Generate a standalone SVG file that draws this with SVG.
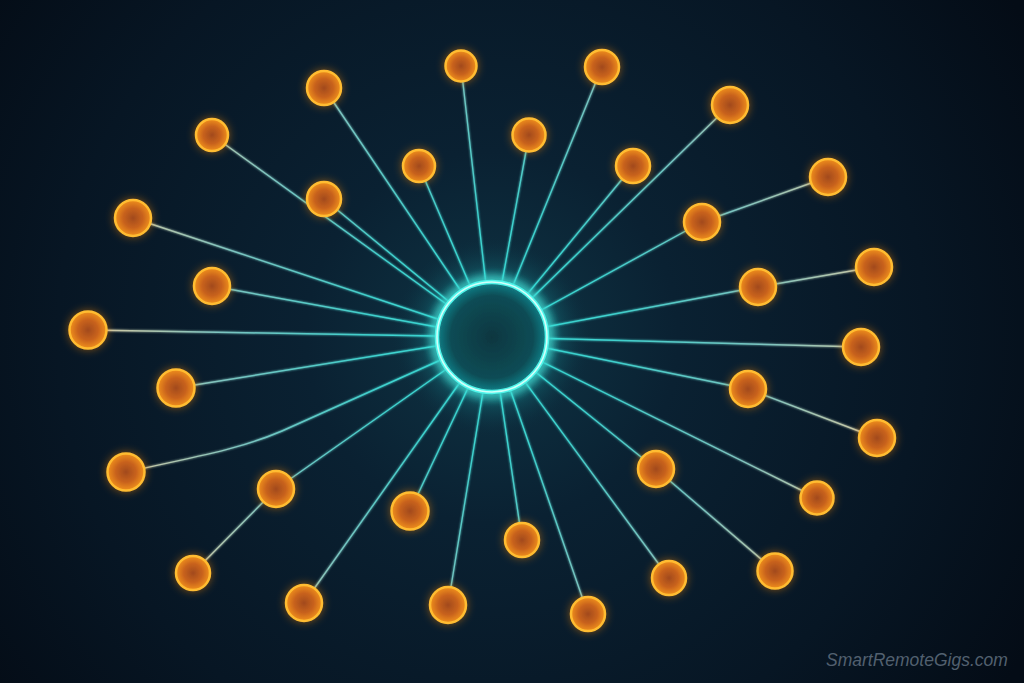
<svg xmlns="http://www.w3.org/2000/svg" width="1024" height="683" viewBox="0 0 1024 683">
<defs>
<radialGradient id="bg" gradientUnits="userSpaceOnUse" cx="492" cy="337" r="620">
<stop offset="0" stop-color="#0f3545"/>
<stop offset="0.3" stop-color="#0a2132"/>
<stop offset="0.7" stop-color="#071624"/>
<stop offset="1" stop-color="#040c16"/>
</radialGradient>
<radialGradient id="lineGrad" gradientUnits="userSpaceOnUse" cx="492" cy="337" r="420">
<stop offset="0" stop-color="#3ff4ea"/>
<stop offset="0.3" stop-color="#3fcfcc"/>
<stop offset="0.65" stop-color="#7cc4c0"/>
<stop offset="1" stop-color="#e6c89c"/>
</radialGradient>
<radialGradient id="halo" cx="0.5" cy="0.5" r="0.5">
<stop offset="0.5" stop-color="#2fe8dc" stop-opacity="0.5"/>
<stop offset="0.7" stop-color="#1ab0b4" stop-opacity="0.18"/>
<stop offset="1" stop-color="#0a3040" stop-opacity="0"/>
</radialGradient>
<radialGradient id="hubFill" cx="0.5" cy="0.5" r="0.5">
<stop offset="0" stop-color="#093640"/>
<stop offset="0.75" stop-color="#0b4c55"/>
<stop offset="1" stop-color="#148088"/>
</radialGradient>
<radialGradient id="nodeFill" cx="0.5" cy="0.5" r="0.5">
<stop offset="0" stop-color="#a24a1e"/>
<stop offset="0.55" stop-color="#c8621a"/>
<stop offset="1" stop-color="#f0901c"/>
</radialGradient>
<filter id="glowO" x="-60%" y="-60%" width="220%" height="220%">
<feGaussianBlur in="SourceAlpha" stdDeviation="4" result="b"/>
<feFlood flood-color="#ff8a10" flood-opacity="0.5"/>
<feComposite in2="b" operator="in" result="g"/>
<feMerge><feMergeNode in="g"/><feMergeNode in="SourceGraphic"/></feMerge>
</filter>
<filter id="glowC" x="-60%" y="-60%" width="220%" height="220%">
<feGaussianBlur in="SourceGraphic" stdDeviation="6" result="b"/>
<feMerge><feMergeNode in="b"/><feMergeNode in="b"/><feMergeNode in="SourceGraphic"/></feMerge>
</filter>
<filter id="glowL" x="-10%" y="-10%" width="120%" height="120%">
<feGaussianBlur in="SourceGraphic" stdDeviation="1.2" result="b"/>
<feMerge><feMergeNode in="b"/><feMergeNode in="SourceGraphic"/></feMerge>
</filter>
</defs>
<style>
.ln{stroke:url(#lineGrad);stroke-width:1.4;fill:none;stroke-linecap:round}
.nd{fill:url(#nodeFill);stroke:#ffbc30;stroke-width:2.5;filter:url(#glowO)}
.wm{font-family:"Liberation Sans",Arial,sans-serif;font-style:italic;font-size:17.5px;fill:#52606f}
</style>
<rect width="1024" height="683" fill="url(#bg)"/>
<g id="connectors" filter="url(#glowL)">
<line class="ln" x1="492" y1="337" x2="324" y2="88"/>
<line class="ln" x1="492" y1="337" x2="461" y2="66"/>
<line class="ln" x1="492" y1="337" x2="602" y2="67"/>
<line class="ln" x1="492" y1="337" x2="730" y2="105"/>
<line class="ln" x1="492" y1="337" x2="212" y2="135"/>
<line class="ln" x1="492" y1="337" x2="529" y2="135"/>
<line class="ln" x1="492" y1="337" x2="419" y2="166"/>
<line class="ln" x1="492" y1="337" x2="633" y2="166"/>
<line class="ln" x1="492" y1="337" x2="324" y2="199"/>
<line class="ln" x1="492" y1="337" x2="133" y2="218"/>
<line class="ln" x1="492" y1="337" x2="702" y2="222"/>
<line class="ln" x1="702" y1="222" x2="828" y2="177"/>
<line class="ln" x1="492" y1="337" x2="212" y2="286"/>
<line class="ln" x1="492" y1="337" x2="758" y2="287"/>
<line class="ln" x1="758" y1="287" x2="874" y2="267"/>
<line class="ln" x1="492" y1="337" x2="88" y2="330"/>
<line class="ln" x1="492" y1="337" x2="861" y2="347"/>
<line class="ln" x1="492" y1="337" x2="176" y2="388"/>
<line class="ln" x1="492" y1="337" x2="748" y2="389"/>
<line class="ln" x1="748" y1="389" x2="877" y2="438"/>
<path class="ln" d="M492 337 L282 431 C240 449 200 456 126 472"/>
<line class="ln" x1="492" y1="337" x2="656" y2="469"/>
<line class="ln" x1="656" y1="469" x2="775" y2="571"/>
<line class="ln" x1="492" y1="337" x2="276" y2="489"/>
<line class="ln" x1="276" y1="489" x2="193" y2="573"/>
<line class="ln" x1="492" y1="337" x2="817" y2="498"/>
<line class="ln" x1="492" y1="337" x2="410" y2="511"/>
<line class="ln" x1="492" y1="337" x2="522" y2="540"/>
<line class="ln" x1="492" y1="337" x2="669" y2="578"/>
<line class="ln" x1="492" y1="337" x2="304" y2="603"/>
<line class="ln" x1="492" y1="337" x2="448" y2="605"/>
<line class="ln" x1="492" y1="337" x2="588" y2="614"/>
</g>
<g id="hub">
<circle cx="492" cy="337" r="100" fill="url(#halo)"/>
<circle cx="492" cy="337" r="55" fill="url(#hubFill)" stroke="#4ff4ea" stroke-width="4.5" filter="url(#glowC)"/>
<circle cx="492" cy="337" r="55" fill="none" stroke="#d0fff9" stroke-width="1.6"/>
</g>
<g id="n1"><circle class="nd" cx="324" cy="88" r="17"/></g>
<g id="n2"><circle class="nd" cx="461" cy="66" r="15.5"/></g>
<g id="n3"><circle class="nd" cx="602" cy="67" r="17"/></g>
<g id="n4"><circle class="nd" cx="730" cy="105" r="18"/></g>
<g id="n5"><circle class="nd" cx="212" cy="135" r="16"/></g>
<g id="n6"><circle class="nd" cx="529" cy="135" r="16.5"/></g>
<g id="n7"><circle class="nd" cx="419" cy="166" r="16"/></g>
<g id="n8"><circle class="nd" cx="633" cy="166" r="17"/></g>
<g id="n9"><circle class="nd" cx="828" cy="177" r="18"/></g>
<g id="n10"><circle class="nd" cx="324" cy="199" r="17"/></g>
<g id="n11"><circle class="nd" cx="133" cy="218" r="18"/></g>
<g id="n12"><circle class="nd" cx="702" cy="222" r="18"/></g>
<g id="n13"><circle class="nd" cx="874" cy="267" r="18"/></g>
<g id="n14"><circle class="nd" cx="212" cy="286" r="18"/></g>
<g id="n15"><circle class="nd" cx="758" cy="287" r="18"/></g>
<g id="n16"><circle class="nd" cx="88" cy="330" r="18.5"/></g>
<g id="n17"><circle class="nd" cx="861" cy="347" r="18"/></g>
<g id="n18"><circle class="nd" cx="176" cy="388" r="18.5"/></g>
<g id="n19"><circle class="nd" cx="748" cy="389" r="18"/></g>
<g id="n20"><circle class="nd" cx="877" cy="438" r="18"/></g>
<g id="n21"><circle class="nd" cx="126" cy="472" r="18.5"/></g>
<g id="n22"><circle class="nd" cx="656" cy="469" r="18"/></g>
<g id="n23"><circle class="nd" cx="276" cy="489" r="18"/></g>
<g id="n24"><circle class="nd" cx="817" cy="498" r="16.5"/></g>
<g id="n25"><circle class="nd" cx="410" cy="511" r="18.5"/></g>
<g id="n26"><circle class="nd" cx="522" cy="540" r="17"/></g>
<g id="n27"><circle class="nd" cx="193" cy="573" r="17"/></g>
<g id="n28"><circle class="nd" cx="775" cy="571" r="17.5"/></g>
<g id="n29"><circle class="nd" cx="669" cy="578" r="17"/></g>
<g id="n30"><circle class="nd" cx="304" cy="603" r="18"/></g>
<g id="n31"><circle class="nd" cx="448" cy="605" r="18"/></g>
<g id="n32"><circle class="nd" cx="588" cy="614" r="17"/></g>
<text class="wm" x="826" y="666">SmartRemoteGigs.com</text>
</svg>
